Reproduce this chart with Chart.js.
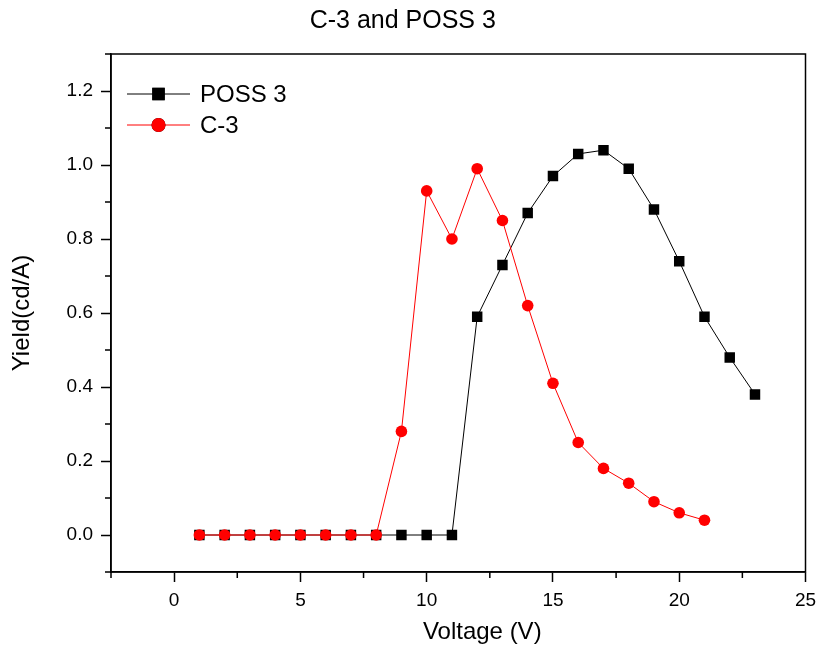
<!DOCTYPE html>
<html>
<head>
<meta charset="utf-8">
<script src="https://cdn.jsdelivr.net/npm/chart.js@4.4.1/dist/chart.umd.min.js"></script>
<style>
  html, body { margin: 0; padding: 0; background: #ffffff; }
  #wrap { width: 820px; height: 652px; }
</style>
</head>
<body>
<div id="wrap"><canvas id="c" width="820" height="652"></canvas></div>
<script>
// ---- data ----
const chartTitle = "C-3 and POSS 3";
const xTitle = "Voltage (V)";
const yTitle = "Yield(cd/A)";

const voltsPoss = [1,2,3,4,5,6,7,8,9,10,11,12,13,14,15,16,17,18,19,20,21,22,23];
const yieldPoss = [0,0,0,0,0,0,0,0,0,0,0,0.59,0.73,0.87,0.97,1.03,1.04,0.99,0.88,0.74,0.59,0.48,0.38];

const voltsC3 = [1,2,3,4,5,6,7,8,9,10,11,12,13,14,15,16,17,18,19,20,21];
const yieldC3 = [0,0,0,0,0,0,0,0,0.28,0.93,0.80,0.99,0.85,0.62,0.41,0.25,0.18,0.14,0.09,0.06,0.04];

const xMajorTicks = [0,5,10,15,20,25];
const xMinorTicks = [-2.5,2.5,7.5,12.5,17.5,22.5];
const yMajorTicks = [0.0,0.2,0.4,0.6,0.8,1.0,1.2];
const yMinorTicks = [-0.1,0.1,0.3,0.5,0.7,0.9,1.1,1.3];
const xRange = [-2.5, 25];
const yRange = [-0.1, 1.3];

const FONT = "'Liberation Sans', Arial, Helvetica, sans-serif";

function toPoints(xs, ys) { return xs.map((x, i) => ({x: x, y: ys[i]})); }

// frame, minor ticks, x-axis title and in-plot legend
const decorPlugin = {
  id: 'decor',
  afterDraw(chart) {
    const ctx = chart.ctx;
    const a = chart.chartArea;
    const xs = chart.scales.x, ys = chart.scales.y;
    ctx.save();
    ctx.strokeStyle = '#000';
    ctx.lineWidth = 1.5;
    ctx.strokeRect(a.left, a.top, a.right - a.left, a.bottom - a.top);
    // minor ticks
    ctx.beginPath();
    xMinorTicks.forEach(v => {
      const px = xs.getPixelForValue(v);
      ctx.moveTo(px, a.bottom); ctx.lineTo(px, a.bottom + 6);
    });
    yMinorTicks.forEach(v => {
      const py = ys.getPixelForValue(v);
      ctx.moveTo(a.left, py); ctx.lineTo(a.left - 6, py);
    });
    ctx.stroke();
    // x-axis title (placed slightly right of centre, as in the reference)
    ctx.fillStyle = '#000';
    ctx.font = '24px ' + FONT;
    ctx.textAlign = 'center';
    ctx.textBaseline = 'middle';
    ctx.fillText(xTitle, (a.left + a.right) / 2 + 24, 632);
    // legend
    const order = [1, 0];
    const lx0 = 127, lx1 = 190, mx = 158.5, tx = 200;
    let ly = 94;
    order.forEach(di => {
      const ds = chart.data.datasets[di];
      ctx.beginPath();
      ctx.strokeStyle = ds.borderColor;
      ctx.lineWidth = 1;
      ctx.moveTo(lx0, ly); ctx.lineTo(lx1, ly);
      ctx.stroke();
      Chart.helpers.drawPoint(ctx, {
        pointStyle: ds.pointStyle,
        radius: ds.legendRadius,
        borderWidth: 0,
        rotation: 0
      }, mx, ly);
      ctx.fillStyle = ds.pointBackgroundColor;
      ctx.fill();
      ctx.fillStyle = '#000';
      ctx.font = '24px ' + FONT;
      ctx.textBaseline = 'middle';
      ctx.textAlign = 'left';
      ctx.fillText(ds.label, tx, ly + 1);
      ly += 31;
    });
    ctx.restore();
  }
};

new Chart(document.getElementById('c'), {
  type: 'line',
  data: {
    datasets: [
      {
        label: 'C-3',
        data: toPoints(voltsC3, yieldC3),
        borderColor: '#ff0000',
        backgroundColor: '#ff0000',
        pointBackgroundColor: '#ff0000',
        pointBorderColor: '#ff0000',
        pointBorderWidth: 0,
        borderWidth: 1,
        pointStyle: 'circle',
        pointRadius: 5.8,
        legendRadius: 7,
        tension: 0
      },
      {
        label: 'POSS 3',
        data: toPoints(voltsPoss, yieldPoss),
        borderColor: '#000000',
        backgroundColor: '#000000',
        pointBackgroundColor: '#000000',
        pointBorderColor: '#000000',
        pointBorderWidth: 0,
        borderWidth: 1,
        pointStyle: 'rect',
        pointRadius: 7.4,
        legendRadius: 8.8,
        tension: 0
      }
    ]
  },
  options: {
    responsive: false,
    animation: false,
    events: [],
    layout: { padding: { left: 0, right: 14.5, top: 0, bottom: 0 } },
    plugins: {
      legend: { display: false },
      tooltip: { enabled: false },
      title: {
        display: true,
        text: chartTitle,
        color: '#000',
        font: { family: FONT, size: 25, weight: 'normal', lineHeight: 1.2 },
        padding: { top: 6, bottom: 18 }
      }
    },
    scales: {
      x: {
        type: 'linear',
        position: 'bottom',
        min: xRange[0],
        max: xRange[1],
        afterBuildTicks: s => { s.ticks = xMajorTicks.map(v => ({value: v})); },
        afterFit: s => { s.height = 80; s.paddingLeft = 0; s.paddingRight = 0; },
        ticks: {
          color: '#000',
          font: { family: FONT, size: 19 },
          padding: 7,
          maxRotation: 0,
          autoSkip: false,
          callback: v => String(v)
        },
        grid: { display: true, drawOnChartArea: false, drawTicks: true, tickLength: 10, tickWidth: 1.5, tickColor: '#000', color: '#000' },
        border: { display: true, color: '#000', width: 1.5 },
        title: { display: false, text: xTitle }
      },
      y: {
        type: 'linear',
        position: 'left',
        min: yRange[0],
        max: yRange[1],
        afterBuildTicks: s => { s.ticks = yMajorTicks.map(v => ({value: v})); },
        afterFit: s => { s.width = 111; s.paddingTop = 0; s.paddingBottom = 0; },
        ticks: {
          color: '#000',
          font: { family: FONT, size: 19 },
          padding: 8,
          autoSkip: false,
          callback: v => Number(v).toFixed(1)
        },
        grid: { display: true, drawOnChartArea: false, drawTicks: true, tickLength: 10, tickWidth: 1.5, tickColor: '#000', color: '#000' },
        border: { display: true, color: '#000', width: 1.5 },
        title: {
          display: true,
          text: yTitle,
          color: '#000',
          font: { family: FONT, size: 24, lineHeight: 1.2 },
          padding: { top: 8, bottom: 0 }
        }
      }
    }
  },
  plugins: [decorPlugin]
});
</script>
</body>
</html>
